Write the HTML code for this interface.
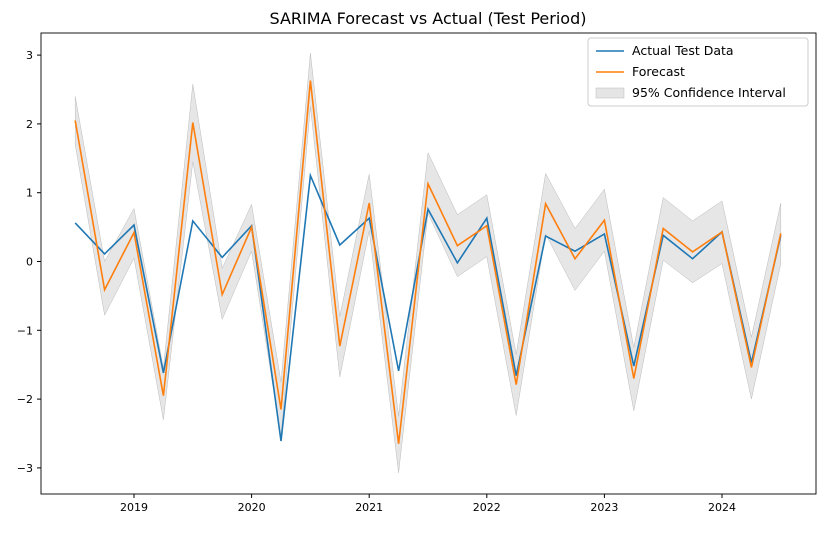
<!DOCTYPE html>
<html><head><meta charset="utf-8"><style>
body{margin:0;background:#fff;font-family:"Liberation Sans","DejaVu Sans",sans-serif}
svg text{font-family:"DejaVu Sans","Liberation Sans",sans-serif}
</style></head><body>
<svg id="chart" width="825" height="528" xmlns="http://www.w3.org/2000/svg">
<text x="428" y="24" text-anchor="middle" font-size="16">SARIMA Forecast vs Actual (Test Period)</text>
<g id="plot"></g>
</svg>
<script>
const dates=[2018.5,2018.75,2019,2019.25,2019.5,2019.75,2020,2020.25,2020.5,2020.75,2021,2021.25,2021.5,2021.75,2022,2022.25,2022.5,2022.75,2023,2023.25,2023.5,2023.75,2024,2024.25,2024.5];
const actual=[0.56,0.11,0.53,-1.62,0.59,0.06,0.52,-2.61,1.25,0.24,0.63,-1.59,0.76,-0.02,0.63,-1.66,0.37,0.15,0.40,-1.52,0.38,0.04,0.43,-1.47,0.38];
const forecast=[2.05,-0.41,0.42,-1.95,2.02,-0.48,0.50,-2.15,2.63,-1.23,0.85,-2.65,1.13,0.23,0.52,-1.79,0.84,0.04,0.60,-1.70,0.48,0.14,0.43,-1.54,0.41];
const upper=[2.40,0.0,0.77,-1.55,2.58,-0.1,0.83,-1.75,3.03,-0.8,1.27,-2.25,1.58,0.68,0.97,-1.35,1.28,0.48,1.05,-1.25,0.93,0.59,0.88,-1.1,0.85];
const lower=[1.70,-0.78,0.05,-2.3,1.45,-0.84,0.15,-2.55,2.25,-1.68,0.45,-3.07,0.70,-0.22,0.07,-2.24,0.40,-0.42,0.15,-2.17,0.02,-0.31,-0.03,-2.0,-0.03];
const yTicks=[-3,-2,-1,0,1,2,3];
const xTicks=[2019,2020,2021,2022,2023,2024];
const L=41,R=816,T=33,B=494;
const x=v=>134+(v-2019)*117.6;
const y=v=>261.5-v*68.8;
const NS="http://www.w3.org/2000/svg";
const g=document.getElementById('plot');
function mk(t,a){const e=document.createElementNS(NS,t);for(const k in a)e.setAttribute(k,a[k]);g.appendChild(e);return e;}
// band
let d='M'+dates.map((t,i)=>x(t)+','+y(upper[i])).join('L');
for(let i=dates.length-1;i>=0;i--)d+='L'+x(dates[i])+','+y(lower[i]);
const band=mk('path',{d:d+'Z',fill:'#808080','fill-opacity':0.2,stroke:'#bbb','stroke-width':0.5});


const la=mk('polyline',{points:dates.map((t,i)=>x(t)+','+y(actual[i])).join(' '),fill:'none',stroke:'#1f77b4','stroke-width':1.6});


const lf=mk('polyline',{points:dates.map((t,i)=>x(t)+','+y(forecast[i])).join(' '),fill:'none',stroke:'#ff7f0e','stroke-width':1.6});


const fr=mk('rect',{x:L,y:T,width:R-L,height:B-T,fill:'none',stroke:'#000','stroke-width':0.9});


yTicks.forEach(v=>{mk('line',{x1:L-4,x2:L,y1:y(v),y2:y(v),stroke:'#000'});
const t=mk('text',{x:L-8,y:y(v)+4,'text-anchor':'end','font-size':11});t.textContent=(v<0?'\u2212'+(-v):v);

});
xTicks.forEach(v=>{mk('line',{x1:x(v),x2:x(v),y1:B,y2:B+4,stroke:'#000'});
const t=mk('text',{x:x(v),y:B+17,'text-anchor':'middle','font-size':11});t.textContent=v;

});
const lg=mk('rect',{x:588,y:38,width:220,height:68,rx:3,fill:'#fff',stroke:'#ccc'});


const items=[['Actual Test Data','#1f77b4','line'],['Forecast','#ff7f0e','line'],['95% Confidence Interval','#ccc','box']];
items.forEach((it,i)=>{const yy=51+i*21;
if(it[2]=='line')mk('line',{x1:596,x2:624,y1:yy,y2:yy,stroke:it[1],'stroke-width':1.6});
else mk('rect',{x:596,y:yy-5,width:28,height:10,fill:'#e5e5e5',stroke:'#bbb','stroke-width':0.5});
const t=mk('text',{x:632,y:yy+4,'font-size':12.5});t.textContent=it[0];

});
</script>
</body></html>
